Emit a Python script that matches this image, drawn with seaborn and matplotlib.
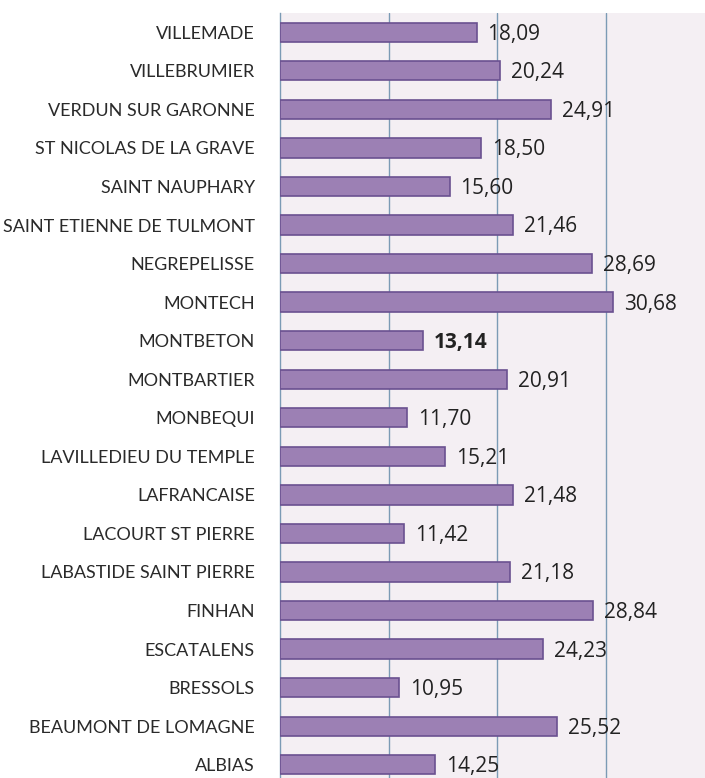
import numpy as np
import pandas as pd
import matplotlib
matplotlib.use("Agg")
import matplotlib.pyplot as plt
import seaborn as sns

# data, top to bottom as shown
communes = ["VILLEMADE", "VILLEBRUMIER", "VERDUN SUR GARONNE", "ST NICOLAS DE LA GRAVE",
            "SAINT NAUPHARY", "SAINT ETIENNE DE TULMONT", "NEGREPELISSE", "MONTECH",
            "MONTBETON", "MONTBARTIER", "MONBEQUI", "LAVILLEDIEU DU TEMPLE",
            "LAFRANCAISE", "LACOURT ST PIERRE", "LABASTIDE SAINT PIERRE", "FINHAN",
            "ESCATALENS", "BRESSOLS", "BEAUMONT DE LOMAGNE", "ALBIAS"]
values = [18.09, 20.24, 24.91, 18.50, 15.60, 21.46, 28.69, 30.68, 13.14, 20.91,
          11.70, 15.21, 21.48, 11.42, 21.18, 28.84, 24.23, 10.95, 25.52, 14.25]
highlight = "MONTBETON"

df = pd.DataFrame({"commune": communes, "valeur": values})

sns.set_style("white")
plt.rcParams["font.family"] = ["Lato", "DejaVu Sans"]

fig = plt.figure(figsize=(7.05, 7.78), dpi=100)
ax = fig.add_axes([280 / 705, -6 / 778, 425 / 705, 771 / 778])
ax.set_facecolor("#f4eff3")

sns.barplot(data=df, x="valeur", y="commune", orient="h", ax=ax,
            color="#9c80b4", edgecolor="#6a5190", linewidth=1.2, width=0.5,
            saturation=1, zorder=3)

ax.set_xlim(0, 39.1)
ax.set_xticks([10, 20, 30])
ax.xaxis.grid(True, color="#7b9bb5", linewidth=1.0, zorder=0)
ax.set_xticklabels([])
ax.tick_params(axis="x", length=0)
ax.set_xlabel("")
ax.set_ylabel("")

# ticks between categories, labels at centres
n = len(communes)
ax.set_yticks(np.arange(-0.5, n, 1), minor=True)
ax.tick_params(axis="y", which="major", length=0, pad=18, labelsize=13,
               labelcolor="#2a2a2a")
ax.tick_params(axis="y", which="minor", length=5, color="#7b9bb5", width=1, direction="out")
ax.set_ylim(n - 0.5, -0.5)

for s in ["top", "right", "bottom"]:
    ax.spines[s].set_visible(False)
ax.spines["left"].set_color("#7b9bb5")
ax.spines["left"].set_linewidth(1.0)

for i, (c, v) in enumerate(zip(communes, values)):
    ax.text(v + 1.0, i + 0.05, f"{v:.2f}".replace(".", ","), va="center", ha="left",
            fontsize=15, color="#222222", zorder=4, family=["Open Sans", "DejaVu Sans"],
            fontweight="bold" if c == highlight else "normal")

fig.savefig("out.png", dpi=100)
